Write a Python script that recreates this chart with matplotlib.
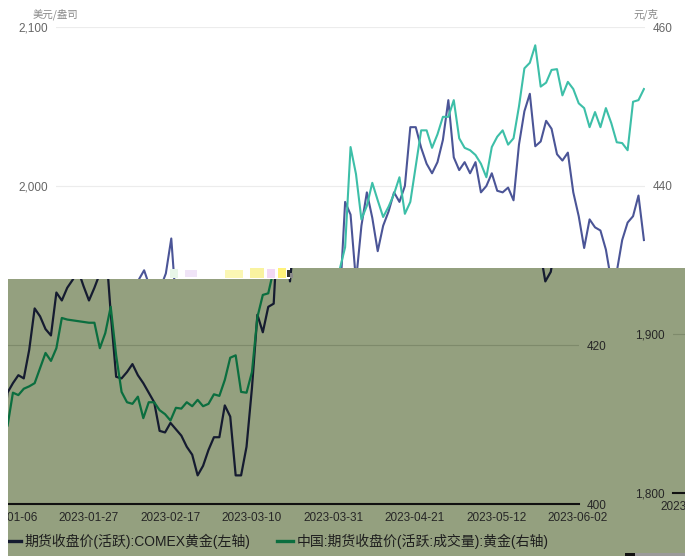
import numpy as np
import pandas as pd
import matplotlib
matplotlib.use("Agg")
import matplotlib.pyplot as plt
from matplotlib.patches import Polygon, Rectangle
from matplotlib.lines import Line2D

plt.rcParams['font.family'] = ['Liberation Sans', 'Noto Sans CJK SC']

# --- Data (one value per weekday, 2023-01-03 .. 2023-06-02) ---
DATES = pd.bdate_range("2023-01-03", "2023-06-02")

# COMEX gold, USD/oz (left axis)
COMEX_GOLD = [
    1845, 1860, 1838, 1870, 1876, 1881, 1879, 1897, 1923, 1918,
    1910, 1906, 1933, 1928, 1936, 1941, 1947, 1937, 1928, 1936,
    1945, 1967, 1920, 1880, 1879, 1883, 1888, 1881, 1876, 1870,
    1864, 1846, 1845, 1851, 1847, 1843, 1836, 1831, 1818, 1824,
    1834, 1842, 1842, 1862, 1855, 1818, 1818, 1836, 1873, 1919,
    1908, 1924, 1926, 1990, 1982, 1940, 1975, 1996, 1980, 1959,
    1975, 1984, 1996, 1990, 2000, 2037, 2037, 2024, 2014, 2008,
    2015, 2029, 2054, 2018, 2010, 2015, 2008, 2015, 1996, 2000,
    2008, 1997, 1996, 1999, 1991, 2026, 2047, 2058, 2025, 2028,
    2041, 2036, 2020, 2016, 2021, 1996, 1981, 1961, 1979, 1974,
    1972, 1960, 1940, 1946, 1966, 1977, 1981, 1994, 1966,
]

# China gold futures, CNY/g (right axis)
CHINA_GOLD = [
    411.3, 413.3, 412.0, 409.8, 414.0, 413.7, 414.5, 414.8, 415.2, 417.1,
    419.0, 418.0, 419.6, 423.4, 423.2, 423.1, 423.0, 422.9, 422.8, 422.8,
    419.6, 421.5, 424.8, 418.7, 414.1, 412.8, 412.6, 413.5, 410.8, 412.8,
    412.8, 411.8, 411.3, 410.5, 412.1, 412.0, 412.8, 412.3, 413.1, 412.3,
    412.6, 413.8, 413.6, 415.6, 418.4, 418.7, 414.1, 414.0, 416.6, 423.5,
    426.3, 426.5, 429.5, 432.3, 444.9, 441.5, 435.8, 437.5, 440.4, 438.2,
    436.1, 437.4, 439.0, 441.1, 436.5, 438.0, 442.5, 447.0, 447.0, 444.8,
    446.5, 448.7, 448.7, 450.8, 446.0, 444.8, 444.5, 443.9, 442.8, 441.1,
    444.9, 446.2, 447.0, 445.2, 446.0, 450.0, 454.8, 455.5, 457.7, 452.5,
    453.0, 454.6, 454.7, 451.4, 453.1, 452.2, 450.4, 449.8, 447.4, 449.3,
    447.4, 449.8, 447.9, 445.5, 445.4, 444.5, 450.6, 450.8, 452.2,
]

LEFT_TICKS = [1800, 1900, 2000, 2100]
RIGHT_TICKS = [400, 420, 440, 460]
XTICK_POS = list(range(3, len(DATES), 15))
LEFT_UNIT = "美元/盎司"
RIGHT_UNIT = "元/克"
LEGEND_LABELS = ["期货收盘价(活跃):COMEX黄金(左轴)",
                 "中国:期货收盘价(活跃:成交量):黄金(右轴)"]

# --- Layout (pixels, origin top-left) ---
W, H = 685, 556
PLOT_L, PLOT_R, PLOT_T, PLOT_B = 56, 645, 27, 504

CLEAN = dict(c1='#4b5597', c2='#3dbfa8', text='#666666', grid='#ececec',
             axis='#3a3a3a', lw=1.5, leg='#333333')
GLITCH = dict(c1='#151b30', c2='#0b6e3f', text='#262626', grid='#7e8a6b',
              axis='#111111', lw=1.6, leg='#1e1e1e')
GLITCH_BG = '#94a07f'


def fx(px):
    return px / W


def fy(py):
    return 1 - py / H


fig = plt.figure(figsize=(W / 100, H / 100), dpi=100)

glitch_pts = [(8, 279), (290, 279), (290, 268), (685, 268), (685, 556), (8, 556)]
glitch_poly = Polygon([(fx(a), fy(b)) for a, b in glitch_pts], closed=True,
                      transform=fig.transFigure, facecolor=GLITCH_BG,
                      edgecolor='none', zorder=1)


def draw_copy(dx, dy, crop_top, style, z, clip=None, legend=False,
              left_from=None, right_from=None, x_labels=None):
    """Draw the chart shifted by (dx, dy) px, cropped at crop_top.
    left_from/right_from: lowest tick value whose label is shown (None = none).
    x_labels: indices into XTICK_POS whose labels are shown."""
    x = np.arange(len(DATES))
    frac = (PLOT_B - crop_top) / (PLOT_B - PLOT_T)
    left_lim = (LEFT_TICKS[0], LEFT_TICKS[0] + (LEFT_TICKS[-1] - LEFT_TICKS[0]) * frac)
    right_lim = (RIGHT_TICKS[0], RIGHT_TICKS[0] + (RIGHT_TICKS[-1] - RIGHT_TICKS[0]) * frac)

    ax = fig.add_axes([fx(PLOT_L + dx), fy(PLOT_B + dy),
                       (PLOT_R - PLOT_L) / W, (PLOT_B - crop_top) / H])
    ax.set_zorder(z)
    ax.patch.set_visible(False)
    ax2 = ax.twinx()
    ax2.set_zorder(z + 0.1)
    ax2.patch.set_visible(False)

    l1, = ax.plot(x, COMEX_GOLD, color=style['c1'], lw=style['lw'],
                  solid_joinstyle='round')
    l2, = ax2.plot(x, CHINA_GOLD, color=style['c2'], lw=style['lw'],
                   solid_joinstyle='round')
    if clip is not None:
        l1.set_clip_path(clip)
        l2.set_clip_path(clip)

    ax.set_xlim(-0.22, len(DATES) - 0.8)
    ax.set_xticks(XTICK_POS)
    ax.set_xticklabels([DATES[p].strftime('%Y-%m-%d') if (x_labels is not None and k in x_labels) else ''
                        for k, p in enumerate(XTICK_POS)])

    lt = [t for t in LEFT_TICKS if t <= left_lim[1] + 1e-6]
    ax.set_yticks(lt)
    ax.set_yticklabels([f"{t:,}" if (left_from is not None and t >= left_from) else '' for t in lt])
    ax.set_ylim(left_lim)
    rt = [t for t in RIGHT_TICKS if t <= right_lim[1] + 1e-6]
    ax2.set_yticks(rt)
    ax2.set_yticklabels([str(t) if (right_from is not None and t >= right_from) else '' for t in rt])
    ax2.set_ylim(right_lim)

    for a in (ax, ax2):
        for s in a.spines.values():
            s.set_visible(False)
        a.tick_params(length=0, labelsize=8.5, labelcolor=style['text'])
    ax.spines['bottom'].set_visible(True)
    ax.spines['bottom'].set_color(style['axis'])
    ax.spines['bottom'].set_linewidth(1.5)
    ax.spines['bottom'].set_zorder(3)
    ax.tick_params(axis='y', pad=5.8)
    ax.tick_params(axis='x', pad=6)
    ax2.tick_params(axis='y', pad=5.8)
    ax.yaxis.grid(True, color=style['grid'], lw=0.8)
    ax.set_axisbelow(True)

    if legend:
        handles = [Line2D([], [], color=style['c1'], lw=2.4),
                   Line2D([], [], color=style['c2'], lw=2.4)]
        leg = fig.legend(handles, LEGEND_LABELS, loc='center',
                         bbox_to_anchor=(fx(342.5 + dx), fy(541 + dy)),
                         ncol=2, frameon=False, fontsize=10,
                         handlelength=1.2, handletextpad=0.25,
                         columnspacing=1.9, labelcolor=style['leg'],
                         borderaxespad=0, borderpad=0)
        leg.set_zorder(z + 0.2)
    return ax, ax2


# clean chart (its lower part is hidden by the corrupted band)
draw_copy(0, 0, PLOT_T, CLEAN, 0, left_from=2000, right_from=440)
fig.text(fx(33), fy(14), LEFT_UNIT, fontsize=7.5, color='#888888',
         family=['Noto Sans CJK SC'], ha='left', va='center')
fig.text(fx(633), fy(14), RIGHT_UNIT, fontsize=7.5, color='#888888',
         family=['Noto Sans CJK SC'], ha='left', va='center')

# corrupted lower band: shifted copy on a tinted background
fig.add_artist(glitch_poly)
clip_poly = Polygon([(fx(a), fy(b)) for a, b in glitch_pts], closed=True,
                    transform=fig.transFigure)
draw_copy(-66, 0, 268, GLITCH, 2, clip=clip_poly, legend=True,
          right_from=400, x_labels=range(len(XTICK_POS)))
# wrapped strip on the right edge
draw_copy(617, -11, 279, GLITCH, 3, clip=clip_poly, left_from=1800, x_labels=[0])

# leftover pixels
fig.add_artist(Rectangle((0, 0), fx(8), (556 - 279) / H, transform=fig.transFigure,
                         facecolor='white', edgecolor='none', zorder=4))
noise = [(170, 269, 8, 9, '#e8f6e8'), (185, 270, 12, 7, '#f0e4f7'),
         (225, 270, 18, 8, '#fbf7b4'), (250, 268, 14, 10, '#f9f3a0'),
         (267, 269, 8, 9, '#f2d8f5'), (278, 268, 8, 10, '#fff27a'),
         (287, 270, 3, 7, '#333333'), (290, 273, 3, 5, '#8a8a8a')]
for nx, ny, nw, nh, nc in noise:
    fig.add_artist(Rectangle((fx(nx), fy(ny + nh)), nw / W, nh / H,
                             transform=fig.transFigure, facecolor=nc,
                             edgecolor='none', zorder=4))
fig.add_artist(Rectangle((fx(625), 0), 10 / W, 3 / H, transform=fig.transFigure,
                         facecolor='#111111', edgecolor='none', zorder=4))
fig.add_artist(Rectangle((fx(635), 0), 50 / W, 3 / H, transform=fig.transFigure,
                         facecolor='#9a9a9a', edgecolor='none', zorder=4))

fig.savefig("out.png", dpi=100)
